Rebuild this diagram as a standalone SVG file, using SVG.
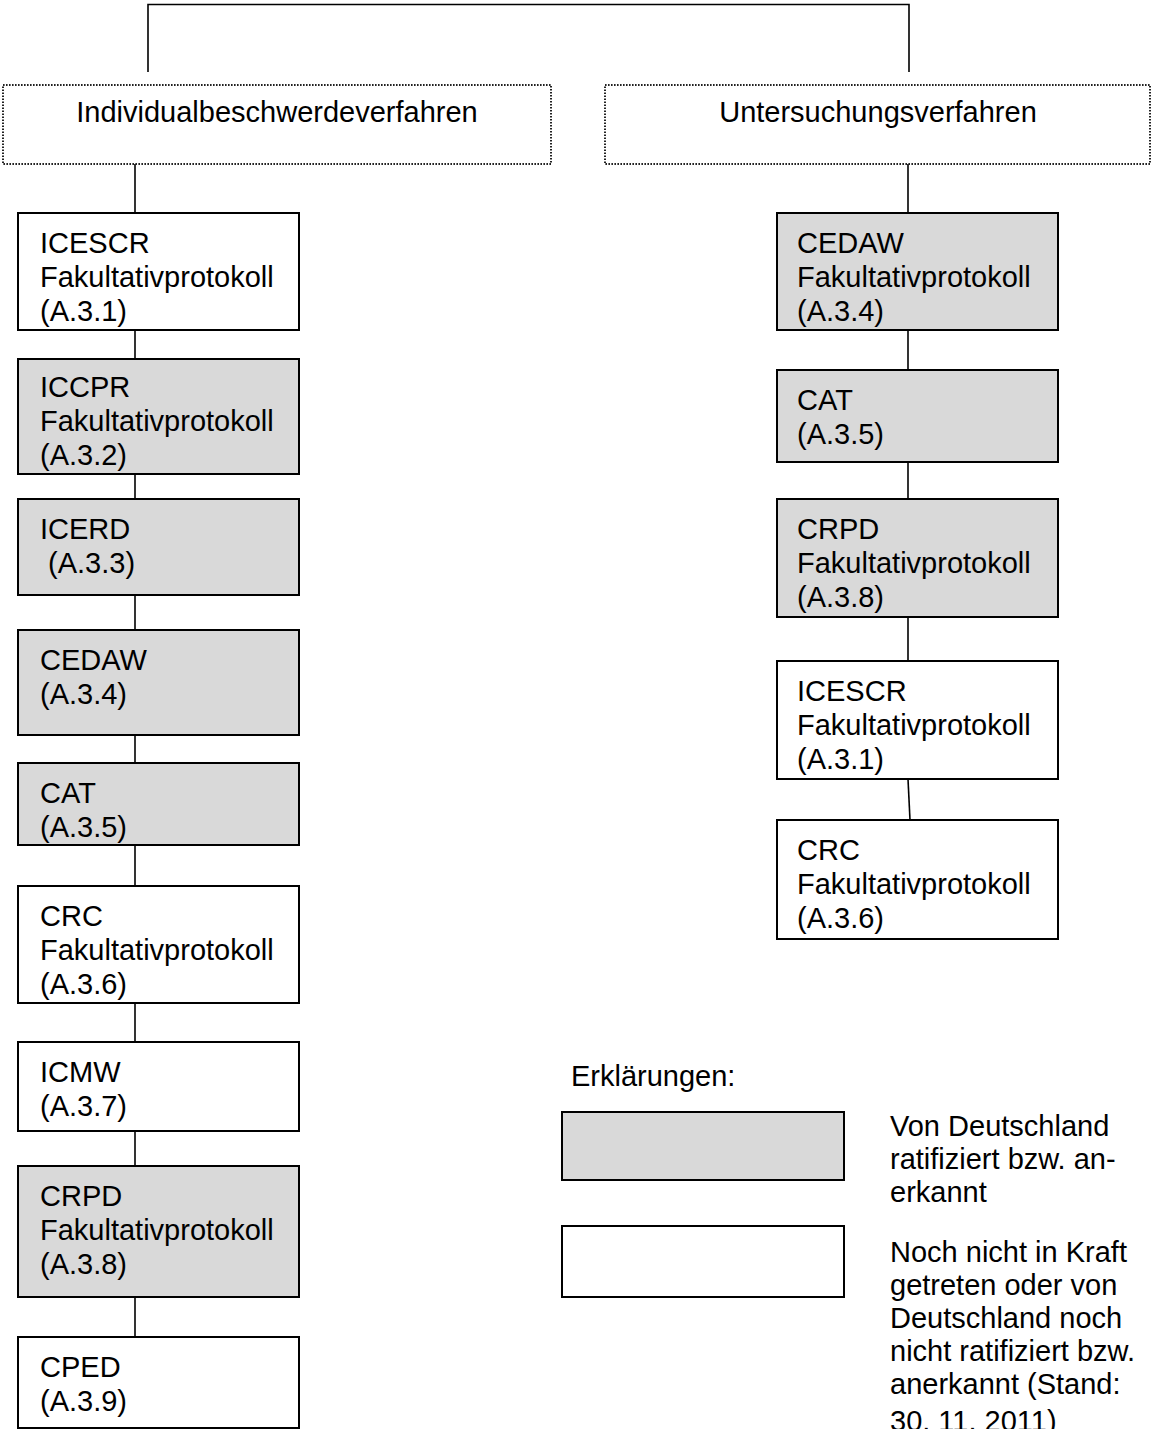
<svg xmlns="http://www.w3.org/2000/svg" width="1152" height="1429" viewBox="0 0 1152 1429">
  <style>
    text { font-family: "Liberation Sans", Arial, sans-serif; font-size: 29px; fill: #000; }
    .box { stroke: #000; stroke-width: 2; }
    .white { fill: #fff; }
    .grey { fill: #d9d9d9; }
    .group { fill: #fff; stroke: #222; stroke-width: 2; stroke-dasharray: 1.6 1.4; }
    .link { fill: none; stroke: #000; stroke-width: 1.6; }
  </style>
  <rect width="1152" height="1429" fill="#fff"/>

  <!-- connectors -->
  <g id="connectors">
    <polyline class="link" points="148,72 148,4.5 909,4.5 909,72"/>
    <line class="link" x1="135" y1="164" x2="135" y2="213"/>
    <line class="link" x1="135" y1="330" x2="135" y2="359"/>
    <line class="link" x1="135" y1="474" x2="135" y2="499"/>
    <line class="link" x1="135" y1="595" x2="135" y2="630"/>
    <line class="link" x1="135" y1="735" x2="135" y2="763"/>
    <line class="link" x1="135" y1="845" x2="135" y2="886"/>
    <line class="link" x1="135" y1="1003" x2="135" y2="1042"/>
    <line class="link" x1="135" y1="1131" x2="135" y2="1166"/>
    <line class="link" x1="135" y1="1297" x2="135" y2="1337"/>
    <line class="link" x1="908" y1="164" x2="908" y2="213"/>
    <line class="link" x1="908" y1="330" x2="908" y2="370"/>
    <line class="link" x1="908" y1="462" x2="908" y2="499"/>
    <line class="link" x1="908" y1="617" x2="908" y2="661"/>
    <line class="link" x1="908" y1="779" x2="910" y2="820"/>
  </g>

  <!-- procedure headings -->
  <g id="individualbeschwerde">
    <rect class="group" x="3" y="85" width="548" height="79"/>
    <text x="277" y="122" text-anchor="middle">Individualbeschwerdeverfahren</text>
  </g>
  <g id="untersuchung">
    <rect class="group" x="605" y="85" width="545" height="79"/>
    <text x="878" y="122" text-anchor="middle">Untersuchungsverfahren</text>
  </g>

  <!-- left column -->
  <g id="l-icescr">
    <rect class="box white" x="18" y="213" width="281" height="117"/>
    <text x="40" y="253">ICESCR</text>
    <text x="40" y="287">Fakultativprotokoll</text>
    <text x="40" y="321">(A.3.1)</text>
  </g>
  <g id="l-iccpr">
    <rect class="box grey" x="18" y="359" width="281" height="115"/>
    <text x="40" y="397">ICCPR</text>
    <text x="40" y="431">Fakultativprotokoll</text>
    <text x="40" y="465">(A.3.2)</text>
  </g>
  <g id="l-icerd">
    <rect class="box grey" x="18" y="499" width="281" height="96"/>
    <text x="40" y="539">ICERD</text>
    <text x="40" y="573" xml:space="preserve"> (A.3.3)</text>
  </g>
  <g id="l-cedaw">
    <rect class="box grey" x="18" y="630" width="281" height="105"/>
    <text x="40" y="670">CEDAW</text>
    <text x="40" y="704">(A.3.4)</text>
  </g>
  <g id="l-cat">
    <rect class="box grey" x="18" y="763" width="281" height="82"/>
    <text x="40" y="803">CAT</text>
    <text x="40" y="837">(A.3.5)</text>
  </g>
  <g id="l-crc">
    <rect class="box white" x="18" y="886" width="281" height="117"/>
    <text x="40" y="926">CRC</text>
    <text x="40" y="960">Fakultativprotokoll</text>
    <text x="40" y="994">(A.3.6)</text>
  </g>
  <g id="l-icmw">
    <rect class="box white" x="18" y="1042" width="281" height="89"/>
    <text x="40" y="1082">ICMW</text>
    <text x="40" y="1116">(A.3.7)</text>
  </g>
  <g id="l-crpd">
    <rect class="box grey" x="18" y="1166" width="281" height="131"/>
    <text x="40" y="1206">CRPD</text>
    <text x="40" y="1240">Fakultativprotokoll</text>
    <text x="40" y="1274">(A.3.8)</text>
  </g>
  <g id="l-cped">
    <rect class="box white" x="18" y="1337" width="281" height="91"/>
    <text x="40" y="1377">CPED</text>
    <text x="40" y="1411">(A.3.9)</text>
  </g>

  <!-- right column -->
  <g id="r-cedaw">
    <rect class="box grey" x="777" y="213" width="281" height="117"/>
    <text x="797" y="253">CEDAW</text>
    <text x="797" y="287">Fakultativprotokoll</text>
    <text x="797" y="321">(A.3.4)</text>
  </g>
  <g id="r-cat">
    <rect class="box grey" x="777" y="370" width="281" height="92"/>
    <text x="797" y="410">CAT</text>
    <text x="797" y="444">(A.3.5)</text>
  </g>
  <g id="r-crpd">
    <rect class="box grey" x="777" y="499" width="281" height="118"/>
    <text x="797" y="539">CRPD</text>
    <text x="797" y="573">Fakultativprotokoll</text>
    <text x="797" y="607">(A.3.8)</text>
  </g>
  <g id="r-icescr">
    <rect class="box white" x="777" y="661" width="281" height="118"/>
    <text x="797" y="701">ICESCR</text>
    <text x="797" y="735">Fakultativprotokoll</text>
    <text x="797" y="769">(A.3.1)</text>
  </g>
  <g id="r-crc">
    <rect class="box white" x="777" y="820" width="281" height="119"/>
    <text x="797" y="860">CRC</text>
    <text x="797" y="894">Fakultativprotokoll</text>
    <text x="797" y="928">(A.3.6)</text>
  </g>

  <!-- legend -->
  <g id="legend">
    <text x="571" y="1086">Erklärungen:</text>
    <rect class="box grey" x="562" y="1112" width="282" height="68"/>
    <text x="890" y="1136">Von Deutschland</text>
    <text x="890" y="1169">ratifiziert bzw. an-</text>
    <text x="890" y="1202">erkannt</text>
    <rect class="box white" x="562" y="1226" width="282" height="71"/>
    <text x="890" y="1262">Noch nicht in Kraft</text>
    <text x="890" y="1295">getreten oder von</text>
    <text x="890" y="1328">Deutschland noch</text>
    <text x="890" y="1361">nicht ratifiziert bzw.</text>
    <text x="890" y="1394">anerkannt (Stand:</text>
    <text x="890" y="1431">30. 11. 2011)</text>
  </g>
</svg>
